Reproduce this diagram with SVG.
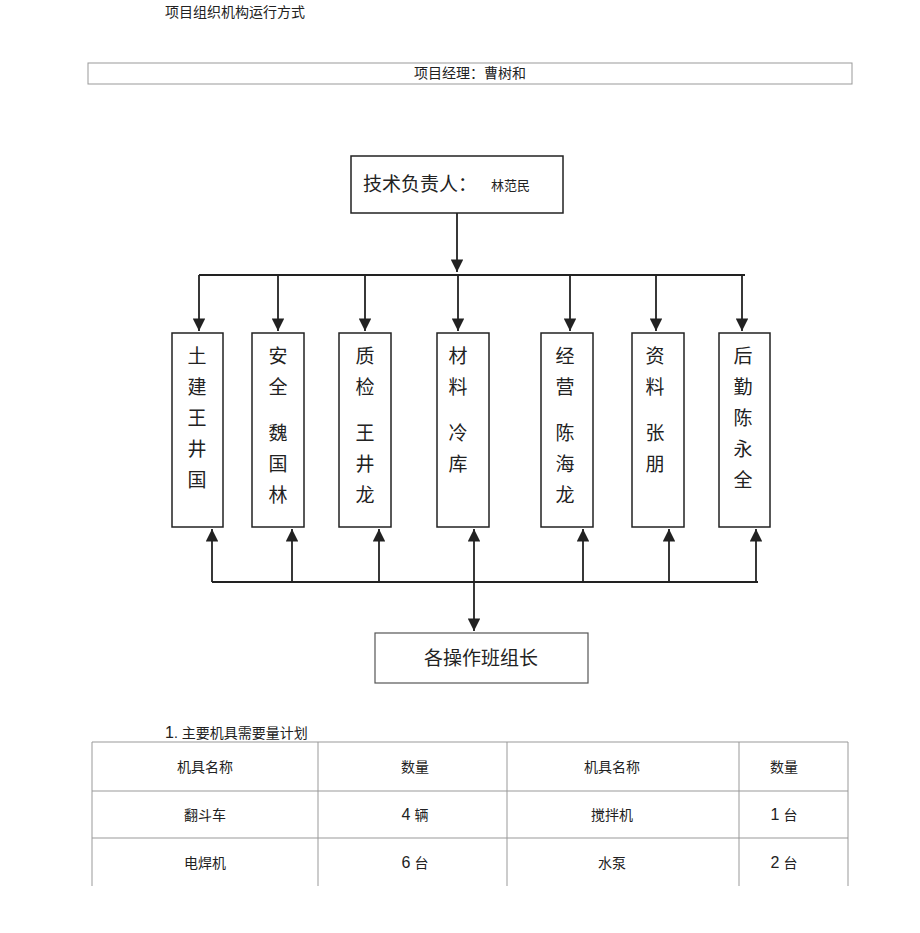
<svg xmlns="http://www.w3.org/2000/svg" width="920" height="933" viewBox="0 0 920 933">
<style>
text{font-family:"Liberation Sans","Noto Sans CJK SC",sans-serif;fill:#222}
.s{font-size:14px}.v{font-size:19px;text-anchor:middle}
.n{font-size:16px}
.b{fill:#fff;stroke:#222;stroke-width:1.5}
.l{stroke:#222;stroke-width:1.8;fill:none}
.m{marker-end:url(#a)}
.t{stroke:#999;stroke-width:1;fill:none}
.c{text-anchor:middle}
</style>
<defs><marker id="a" viewBox="0 0 10 10" refX="10" refY="5" markerWidth="7" markerHeight="7" orient="auto"><path d="M0,0L10,5L0,10z" fill="#222"/></marker></defs>
<rect width="920" height="933" fill="#fff"/>
<text class="s" x="165" y="17">项目组织机构运行方式</text>
<g id="pm"><rect x="88" y="63" width="764" height="21" fill="none" stroke="#999"/><text class="s c" x="470" y="78">项目经理：曹树和</text></g>
<g id="conn">
<path class="l m" d="M457,213V272"/>
<path class="l" d="M199,275H745"/>
<path class="l m" d="M199,275V331"/><path class="l m" d="M278,275V331"/><path class="l m" d="M365,275V331"/><path class="l m" d="M458,275V331"/><path class="l m" d="M570,275V331"/><path class="l m" d="M656,275V331"/><path class="l m" d="M742,275V331"/>
<path class="l" d="M212,582H758"/>
<path class="l m" d="M212,582V529"/><path class="l m" d="M292,582V529"/><path class="l m" d="M379,582V529"/><path class="l m" d="M583,582V529"/><path class="l m" d="M669,582V529"/><path class="l m" d="M756,582V529"/><path class="l m" d="M474,582V529"/>
<path class="l m" d="M474,582V631"/>
</g>
<g id="tech"><rect class="b" x="351" y="156" width="212" height="57"/><text x="363" y="191" font-size="19">技术负责人：</text><text x="491" y="190" font-size="13">林范民</text></g>
<g id="n1"><rect class="b" x="172" y="333" width="51" height="194"/><text class="v"><tspan x="197" y="363">土</tspan><tspan x="197" y="394">建</tspan><tspan x="197" y="425">王</tspan><tspan x="197" y="456">井</tspan><tspan x="197" y="487">国</tspan></text></g>
<g id="n2"><rect class="b" x="252" y="333" width="52" height="194"/><text class="v"><tspan x="278" y="363">安</tspan><tspan x="278" y="394">全</tspan><tspan x="278" y="440">魏</tspan><tspan x="278" y="471">国</tspan><tspan x="278" y="502">林</tspan></text></g>
<g id="n3"><rect class="b" x="339" y="333" width="52" height="194"/><text class="v"><tspan x="365" y="363">质</tspan><tspan x="365" y="394">检</tspan><tspan x="365" y="440">王</tspan><tspan x="365" y="471">井</tspan><tspan x="365" y="502">龙</tspan></text></g>
<g id="n4"><rect class="b" x="437" y="333" width="52" height="194"/><text class="v"><tspan x="458" y="363">材</tspan><tspan x="458" y="394">料</tspan><tspan x="458" y="440">冷</tspan><tspan x="458" y="471">库</tspan></text></g>
<g id="n5"><rect class="b" x="541" y="333" width="52" height="194"/><text class="v"><tspan x="565" y="363">经</tspan><tspan x="565" y="394">营</tspan><tspan x="565" y="440">陈</tspan><tspan x="565" y="471">海</tspan><tspan x="565" y="502">龙</tspan></text></g>
<g id="n6"><rect class="b" x="632" y="333" width="52" height="194"/><text class="v"><tspan x="655" y="363">资</tspan><tspan x="655" y="394">料</tspan><tspan x="655" y="440">张</tspan><tspan x="655" y="471">朋</tspan></text></g>
<g id="n7"><rect class="b" x="719" y="333" width="51" height="194"/><text class="v"><tspan x="743" y="363">后</tspan><tspan x="743" y="394">勤</tspan><tspan x="743" y="425">陈</tspan><tspan x="743" y="456">永</tspan><tspan x="743" y="487">全</tspan></text></g>
<g id="team"><rect x="375" y="633" width="213" height="50" fill="#fff" stroke="#555" stroke-width="1.2"/><text x="481" y="665" font-size="19" class="c">各操作班组长</text></g>
<g id="table">
<text class="s" x="165" y="738"><tspan class="n">1</tspan>. 主要机具需要量计划</text>
<path class="t" d="M92,742H848M92,791H848M92,838H848M92,742V886M318,742V886M507,742V886M739,742V886M848,742V886"/>
<text class="s c" x="205" y="772">机具名称</text><text class="s c" x="415" y="772">数量</text><text class="s c" x="612" y="772">机具名称</text><text class="s c" x="784" y="772">数量</text>
<text class="s c" x="205" y="820">翻斗车</text><text class="s c" x="415" y="820"><tspan class="n">4</tspan> 辆</text><text class="s c" x="612" y="820">搅拌机</text><text class="s c" x="784" y="820"><tspan class="n">1</tspan> 台</text>
<text class="s c" x="205" y="868">电焊机</text><text class="s c" x="415" y="868"><tspan class="n">6</tspan> 台</text><text class="s c" x="612" y="868">水泵</text><text class="s c" x="784" y="868"><tspan class="n">2</tspan> 台</text>
</g>
</svg>
